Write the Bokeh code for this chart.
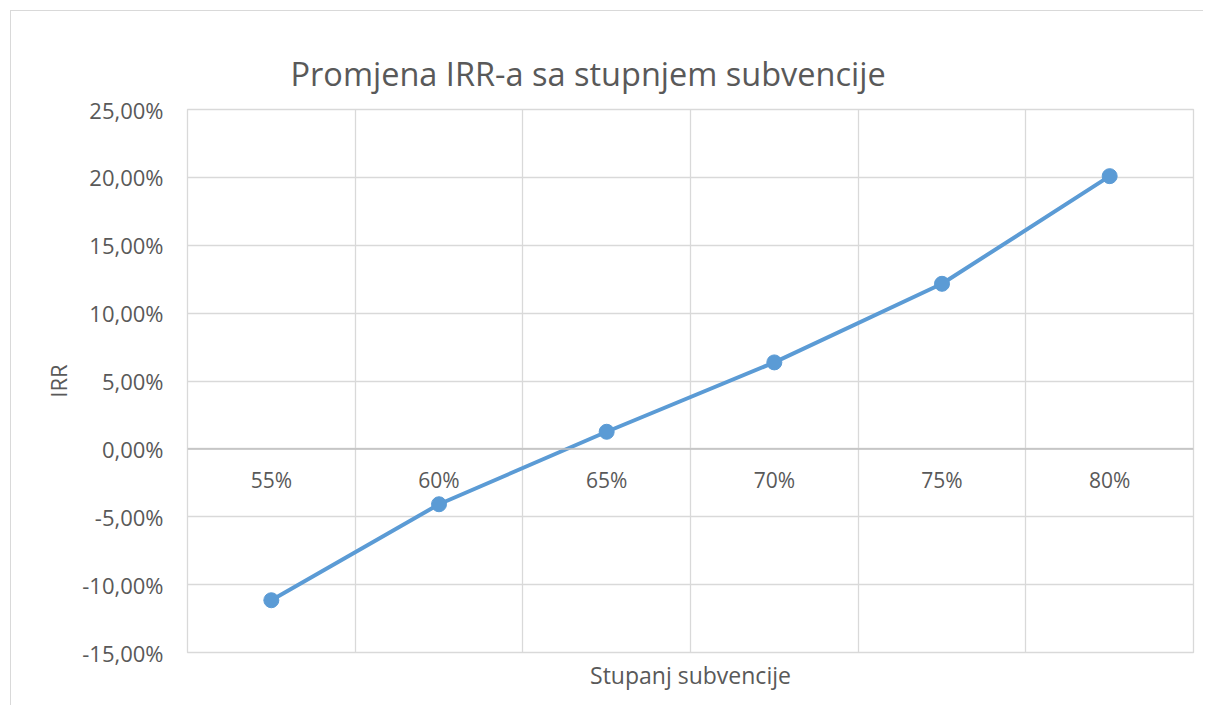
from bokeh.plotting import figure
from bokeh.models import FixedTicker, Span, ColumnDataSource
from bokeh.core.properties import value
from bokeh.embed import file_html
from bokeh.resources import INLINE

# ---- data ----
categories = ["55%", "60%", "65%", "70%", "75%", "80%"]
irr_values = [-11.15, -4.08, 1.26, 6.37, 12.16, 20.09]   # percent
y_ticks = [-15, -10, -5, 0, 5, 10, 15, 20, 25]
y_tick_labels = ["-15,00%", "-10,00%", "-5,00%", "0,00%", "5,00%",
                 "10,00%", "15,00%", "20,00%", "25,00%"]
title_text = "Promjena IRR-a sa stupnjem subvencije"
x_title = "Stupanj subvencije"
y_title = "IRR"

FONT = "Open Sans"
TXT = "#595959"
GRID = "#d9d9d9"
BLUE = "#5b9bd5"

xs = list(range(len(categories)))
n = len(categories)

p = figure(width=1193, height=695, output_backend="svg", toolbar_location=None,
           x_range=(-0.5, n - 0.5), y_range=(y_ticks[0], y_ticks[-1]),
           min_border_left=176, min_border_right=11, min_border_top=98,
           min_border_bottom=54, title=title_text)
p.margin = (10, 0, 0, 10)
p.styles = {"border-left": "1px solid #d9d9d9", "border-top": "1px solid #d9d9d9"}

p.outline_line_color = GRID
p.outline_line_width = 1.3
p.background_fill_color = "white"
p.border_fill_color = "white"

# title
p.title.text_font = FONT
p.title.text_font_size = "32.5px"
p.title.text_font_style = "normal"
p.title.text_color = TXT
p.title.align = "left"
p.title.offset = 103
p.title.standoff = 28

# grids
p.xgrid.ticker = FixedTicker(ticks=[i - 0.5 for i in range(n + 1)])
p.ygrid.ticker = FixedTicker(ticks=y_ticks)
p.xgrid.grid_line_color = GRID
p.ygrid.grid_line_color = GRID
p.xgrid.grid_line_width = 1.3
p.ygrid.grid_line_width = 1.3

# y axis
p.yaxis.ticker = FixedTicker(ticks=y_ticks)
p.yaxis.major_label_overrides = {t: l for t, l in zip(y_ticks, y_tick_labels)}
p.yaxis.axis_line_color = None
p.yaxis.major_tick_line_color = None
p.yaxis.minor_tick_line_color = None
p.yaxis.major_label_standoff = 18
p.yaxis.major_label_text_font = FONT
p.yaxis.major_label_text_font_size = "22px"
p.yaxis.major_label_text_color = TXT
p.yaxis.axis_label = y_title
p.yaxis.axis_label_text_font = FONT
p.yaxis.axis_label_text_font_size = "22px"
p.yaxis.axis_label_text_font_style = "normal"
p.yaxis.axis_label_text_color = TXT
p.yaxis.axis_label_standoff = 6

# x axis (title only)
p.xaxis.ticker = FixedTicker(ticks=[])
p.xaxis.axis_line_color = None
p.xaxis.major_tick_line_color = None
p.xaxis.minor_tick_line_color = None
p.xaxis.major_label_text_font_size = "0px"
p.xaxis.axis_label = x_title
p.xaxis.axis_label_text_font = FONT
p.xaxis.axis_label_text_font_size = "23px"
p.xaxis.axis_label_text_font_style = "normal"
p.xaxis.axis_label_text_color = TXT
p.xaxis.axis_label_standoff = 6

# zero line
p.add_layout(Span(location=0, dimension="width", line_color="#bfbfbf", line_width=1.5))

# category labels next to zero line
src_lab = ColumnDataSource(dict(x=xs, y=[0] * n, t=categories))
p.text(x="x", y="y", text="t", source=src_lab, text_font=value(FONT),
       text_font_size="21px", text_color=TXT, text_align="center",
       text_baseline="top", y_offset=17)

# series
src = ColumnDataSource(dict(x=xs, y=irr_values))
p.line(x="x", y="y", source=src, line_color=BLUE, line_width=4)
p.scatter(x="x", y="y", source=src, size=15, fill_color=BLUE, line_color=BLUE)

open("out.html", "w").write(file_html(p, INLINE))
